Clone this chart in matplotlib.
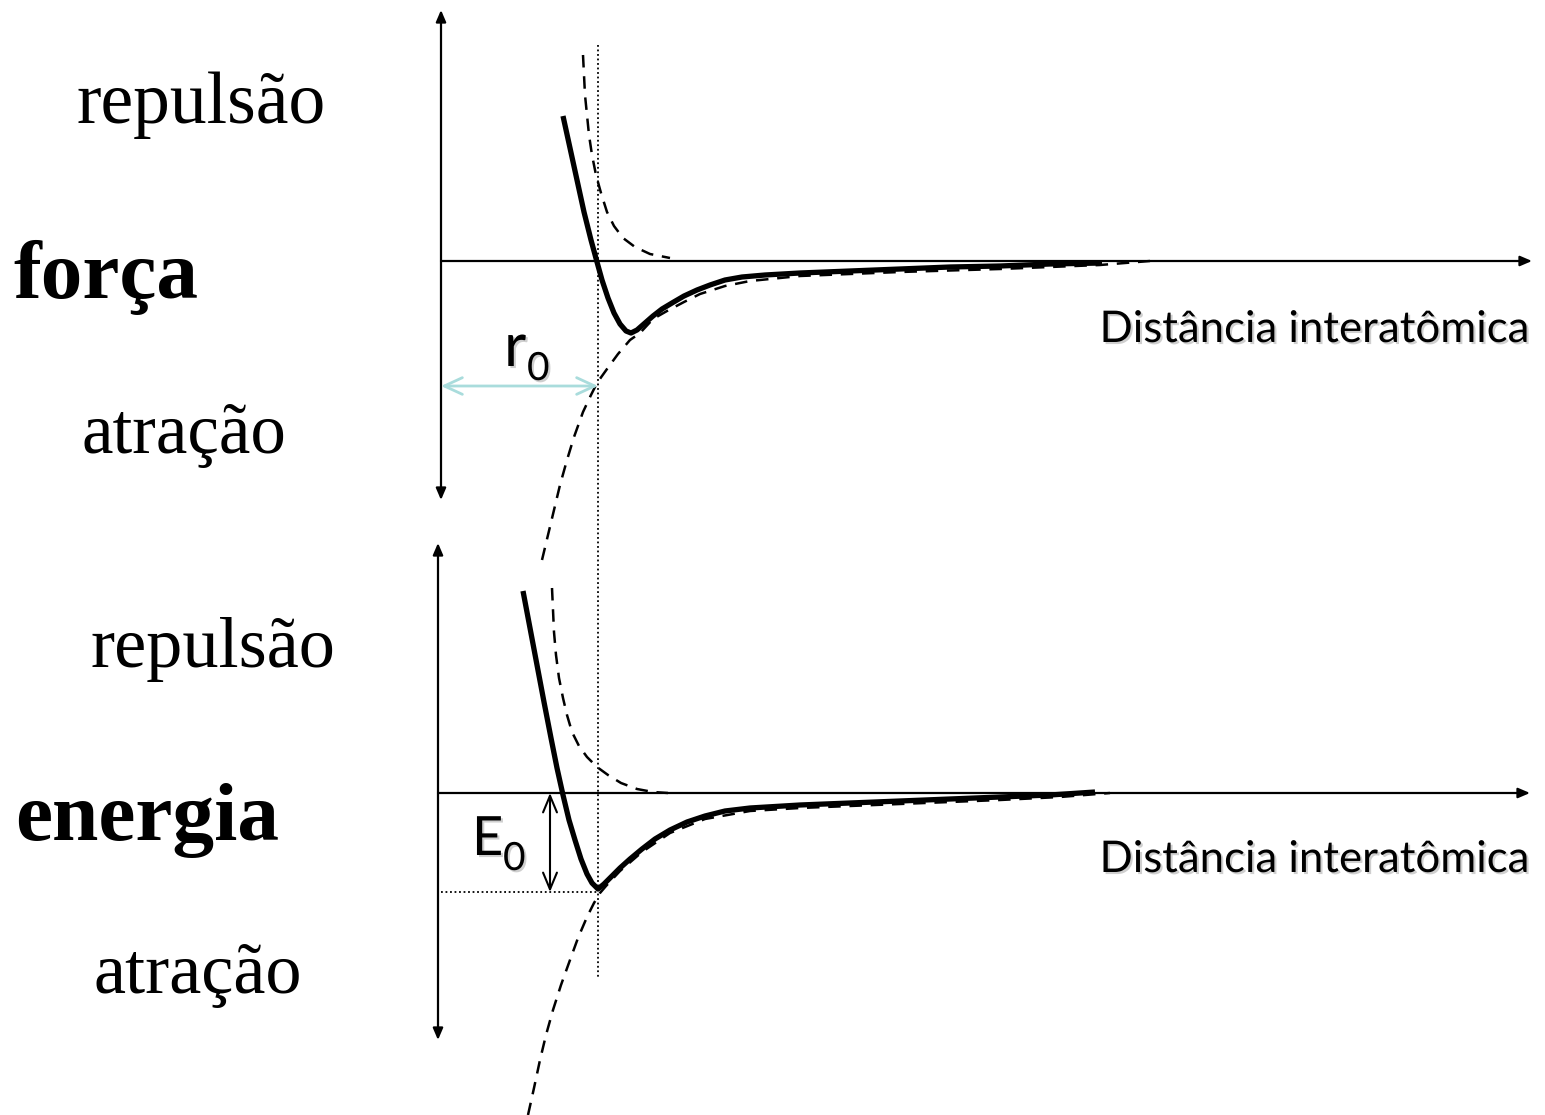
import matplotlib.pyplot as plt
import matplotlib.patheffects as pe

# curves in picture units (x to the right, y downwards)
forca_x = [563, 570, 577, 584, 591, 597, 602, 608, 614, 620, 626, 631, 637, 645, 653,
           662, 672, 684, 697, 710, 725, 742, 765, 800, 850, 900, 950, 1000, 1050, 1102]
forca_y = [116, 148, 180, 212, 240, 262, 280, 298, 313, 324, 331, 333, 330, 323, 316,
           309, 303, 296, 290, 285, 280, 277, 275, 273, 271, 269, 267, 266, 264, 263]

rep_f_x = [583, 584, 585, 587, 589, 592, 596, 601, 607, 614, 623, 635, 650, 670]
rep_f_y = [55, 75, 95, 115, 135, 155, 175, 193, 212, 226, 238, 247, 254, 258]

atr_f_x = [542, 548, 554, 560, 567, 574, 583, 591, 597, 607, 618, 630, 640, 653, 667,
           684, 700, 725, 750, 800, 850, 900, 1000, 1100, 1150]
atr_f_y = [560, 535, 510, 485, 460, 437, 412, 395, 383, 369, 354, 340, 333, 319, 311,
           302, 294, 286, 281, 276, 274, 272, 269, 265, 261]

energia_x = [523, 530, 537, 544, 551, 557, 563, 569, 575, 581, 587, 592, 598, 604, 611,
             620, 630, 642, 655, 670, 687, 705, 725, 750, 800, 850, 900, 950, 1000, 1050, 1095]
energia_y = [591, 628, 665, 702, 738, 768, 795, 820, 840, 859, 874, 883, 889, 884, 877,
             868, 859, 849, 839, 830, 822, 816, 811, 808, 805, 803, 801, 799, 797, 795, 792]

rep_e_x = [552, 553, 554, 556, 559, 563, 567, 572, 579, 587, 597, 608, 621, 637, 653, 668]
rep_e_y = [588, 610, 632, 655, 678, 698, 715, 732, 746, 757, 767, 775, 783, 789, 792, 793]

atr_e_x = [528, 534, 540, 546, 553, 561, 570, 578, 587, 594, 600, 606, 620, 642, 670,
           705, 750, 800, 900, 1000, 1060, 1110]
atr_e_y = [1115, 1088, 1060, 1035, 1010, 985, 960, 938, 917, 903, 893, 886, 871, 852, 833,
           819, 811, 808, 804, 800, 797, 793]

r0 = 598      # equilibrium distance
e0_y = 892    # depth of the energy well
rotulos = [('repulsão', 77, 123, 'normal', 53), ('força', 13, 298, 'bold', 60),
           ('atração', 82, 453, 'normal', 51), ('repulsão', 90, 667, 'normal', 52),
           ('energia', 15, 840, 'bold', 60), ('atração', 93, 993, 'normal', 52)]

fig = plt.figure(figsize=(15.45, 11.15), dpi=100)
ax = fig.add_axes([0, 0, 1, 1])
ax.set_xlim(0, 1545)
ax.set_ylim(1115, 0)
ax.axis('off')

eixo = dict(arrowstyle='<|-|>,head_length=0.7,head_width=0.3', color='black', lw=1.6,
            shrinkA=0, shrinkB=0)
ax.annotate('', xy=(441, 10), xytext=(441, 500), arrowprops=eixo)
ax.annotate('', xy=(438, 543), xytext=(438, 1040), arrowprops=eixo)
eixo_x = dict(eixo, arrowstyle='-|>,head_length=0.7,head_width=0.3')
ax.annotate('', xy=(1532, 261), xytext=(441, 261), arrowprops=eixo_x)
ax.annotate('', xy=(1530, 793), xytext=(438, 793), arrowprops=eixo_x)

# r0 marker line and the E0 level
ax.plot([r0, r0], [45, 977], color='black', lw=1.3, ls=(0, (1, 1.5)))
ax.plot([441, r0], [e0_y, e0_y], color='black', lw=1.3, ls=(0, (1, 1.5)))

tr = (0, (5, 3.5))
ax.plot(rep_f_x, rep_f_y, color='black', lw=1.8, ls=tr)
ax.plot(atr_f_x, atr_f_y, color='black', lw=1.8, ls=tr)
ax.plot(rep_e_x, rep_e_y, color='black', lw=1.8, ls=tr)
ax.plot(atr_e_x, atr_e_y, color='black', lw=1.8, ls=tr)
ax.plot(forca_x, forca_y, color='black', lw=3.8, solid_capstyle='butt')
ax.plot(energia_x, energia_y, color='black', lw=3.8, solid_capstyle='butt')

ax.annotate('', xy=(r0, 386), xytext=(441, 386),
            arrowprops=dict(arrowstyle='<->,head_length=1.3,head_width=0.6',
                            color='#a9dcdc', lw=2, shrinkA=0, shrinkB=0))
ax.annotate('', xy=(550, 793), xytext=(550, e0_y),
            arrowprops=dict(arrowstyle='<->,head_length=1.2,head_width=0.5',
                            color='black', lw=1.5, shrinkA=0, shrinkB=0))

sombra = [pe.withSimplePatchShadow(offset=(1.5, -1.5), shadow_rgbFace='#777777', alpha=0.35)]
sans = 'Lato'
ax.text(504, 366, 'r', fontsize=44, family=sans, path_effects=sombra)
ax.text(527, 380, '0', fontsize=28, family=sans, path_effects=sombra)
ax.text(472, 855, 'E', fontsize=39, family=sans, path_effects=sombra)
ax.text(503, 870, '0', fontsize=28, family=sans, path_effects=sombra)
for y in (342, 872):
    ax.text(1530, y, 'Distância interatômica', fontsize=31.5, family=sans,
            ha='right', path_effects=sombra)

for txt, x, y, peso, tam in rotulos:
    ax.text(x, y, txt, family='Liberation Serif', fontweight=peso, fontsize=tam)

fig.savefig('out.png', dpi=100)
